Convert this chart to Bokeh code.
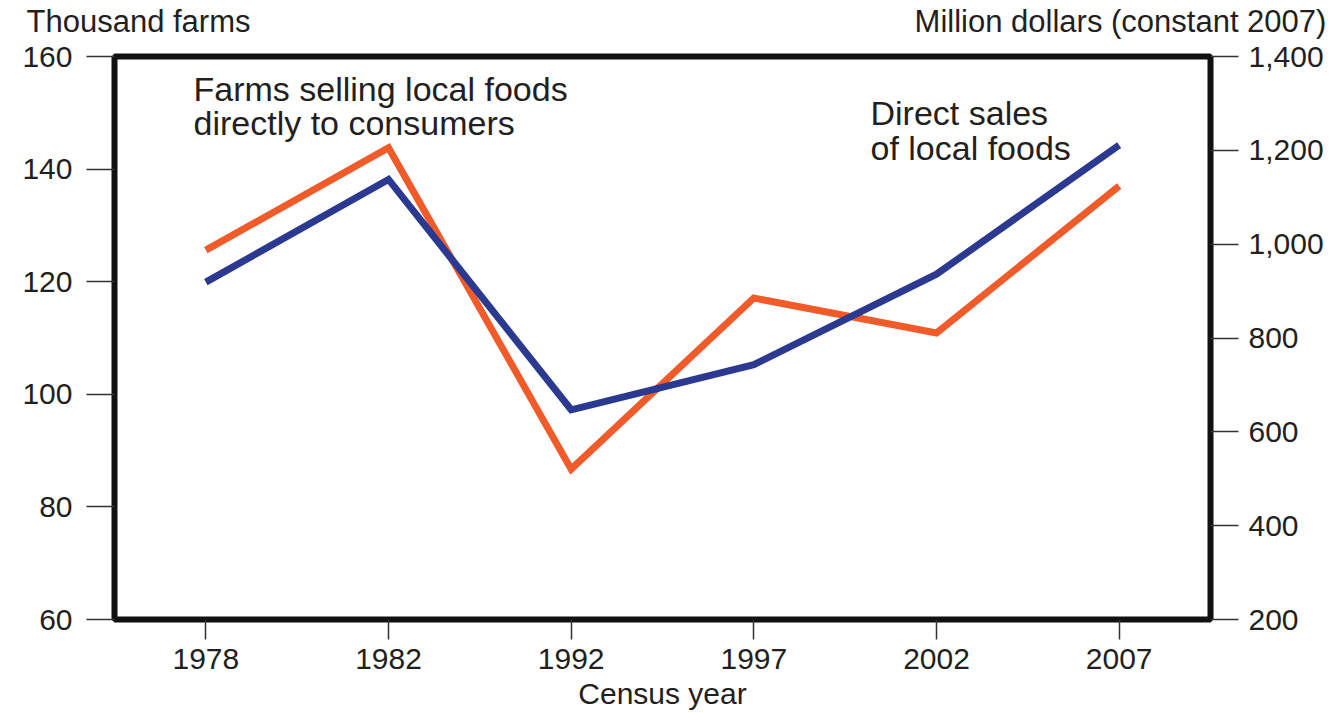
from bokeh.plotting import figure
from bokeh.models import (Range1d, LinearAxis, Label, FixedTicker, NumeralTickFormatter)
from bokeh.embed import file_html
from bokeh.resources import INLINE

years = ["1978", "1982", "1992", "1997", "2002", "2007"]
farms_thousand = [125.6, 143.8, 86.7, 117.1, 110.9, 137.0]
sales_million = [919, 1138, 647, 743, 936, 1211]
left_ticks = [60, 80, 100, 120, 140, 160]
right_ticks = [200, 400, 600, 800, 1000, 1200, 1400]
left_title = "Thousand farms"
right_title = "Million dollars (constant 2007)"
x_title = "Census year"

FONT = "Liberation Sans"
TXT = "#231f20"
ORANGE = "#f15a29"
BLUE = "#2b3990"

# census years are evenly spaced categories on the chart
xpos = list(range(len(years)))

p = figure(width=1330, height=712, output_backend="svg", toolbar_location=None,
           x_range=Range1d(-0.5, len(years) - 0.5),
           y_range=Range1d(60, 160),
           min_border_left=114, min_border_right=120, min_border_top=56, min_border_bottom=92)
p.extra_y_ranges = {"sales": Range1d(200, 1400)}
# helper range (in frame pixels) used only to place the two top titles
p.extra_x_ranges = {"titles": Range1d(0, 1096)}

p.xgrid.visible = False
p.ygrid.visible = False
p.outline_line_color = "#111111"
p.outline_line_width = 6
p.background_fill_color = "white"
p.border_fill_color = "white"

def style_axis(ax, tick_out, standoff, size="30px"):
    ax.axis_line_color = None
    ax.major_tick_in = 0
    ax.major_tick_out = tick_out
    ax.major_tick_line_color = "#333333"
    ax.major_tick_line_width = 1.5
    ax.minor_tick_line_color = None
    ax.major_label_text_font = FONT
    ax.major_label_text_font_size = size
    ax.major_label_text_color = TXT
    ax.major_label_standoff = standoff

xa = p.xaxis[0]
style_axis(xa, 20, 9)
xa.ticker = FixedTicker(ticks=xpos)
xa.major_label_overrides = {i: y for i, y in zip(xpos, years)}
xa.axis_label = x_title
xa.axis_label_text_font = FONT
xa.axis_label_text_font_size = "30px"
xa.axis_label_text_font_style = "normal"
xa.axis_label_text_color = TXT
xa.axis_label_standoff = 5

style_axis(p.yaxis[0], 28, 14)
p.yaxis[0].ticker = FixedTicker(ticks=left_ticks)

raxis = LinearAxis(y_range_name="sales", ticker=FixedTicker(ticks=right_ticks),
                   formatter=NumeralTickFormatter(format="0,0"))
style_axis(raxis, 28, 10)
p.add_layout(raxis, "right")

title_pos = [24, 1006]
taxis = LinearAxis(x_range_name="titles", ticker=FixedTicker(ticks=title_pos),
                   major_label_overrides={title_pos[0]: left_title, title_pos[1]: right_title})
style_axis(taxis, 0, 18, "31px")
taxis.major_tick_line_color = None
p.add_layout(taxis, "above")

p.line(x=xpos, y=farms_thousand, line_color=ORANGE, line_width=7, line_join="miter")
p.line(x=xpos, y=sales_million, line_color=BLUE, line_width=7, line_join="miter",
       y_range_name="sales")

def lab(text, x, y, size):
    p.add_layout(Label(x=x, y=y, x_units="screen", y_units="screen", text=text,
                       text_font=FONT, text_font_size=size, text_color=TXT,
                       text_align="left", text_baseline="alphabetic"))

lab("Farms selling local foods", 79, 531, "34px")
lab("directly to consumers", 79, 497, "34px")
lab("Direct sales", 756, 507, "34px")
lab("of local foods", 756, 472, "34px")

open("out.html", "w").write(file_html(p, INLINE))
